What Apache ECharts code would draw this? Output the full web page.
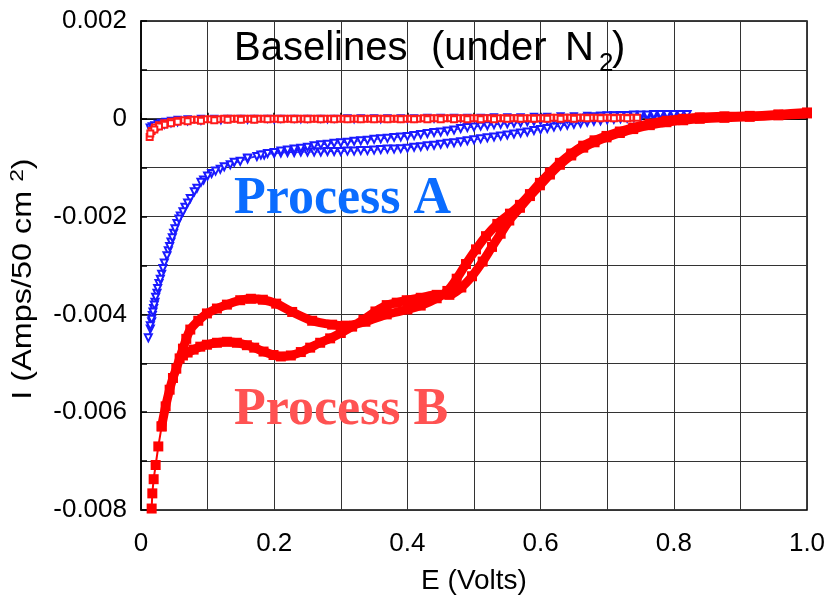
<!DOCTYPE html>
<html>
<head>
<meta charset="utf-8">
<script src="https://cdn.jsdelivr.net/npm/echarts@6/dist/echarts.min.js"></script>
<style>
  html, body { margin: 0; padding: 0; background: #fff; }
  #chart { width: 829px; height: 603px; }
</style>
</head>
<body>
<div id="chart"></div>
<script>
// Axis tick labels
const xTickLabels = ['0', '0.2', '0.4', '0.6', '0.8', '1.0'];
const yTickLabels = ['-0.008', '-0.006', '-0.004', '-0.002', '0', '0.002'];

// Process A sweep (E in volts, I in amps): rise, lower strand out, upper strand back, down the rise again
const procA_E = [0.011,0.014,0.016,0.017,0.019,0.021,0.024,0.027,0.031,0.035,0.041,0.045,0.049,0.054,0.059,0.066,0.074,0.084,0.094,0.106,0.119,0.134,0.149,0.16,0.174,0.185,
  0.20,0.21,0.22,0.23,0.24,0.25,0.26,0.27,0.28,0.29,0.30,0.31,0.32,0.33,0.34,0.35,0.36,0.37,0.38,0.39,0.40,0.41,0.42,0.43,0.44,0.45,0.46,0.47,0.48,0.49,0.50,
  0.51,0.52,0.53,0.54,0.55,0.56,0.57,0.58,0.59,0.60,0.61,0.62,0.63,0.64,0.65,0.66,0.67,0.68,0.69,0.70,0.71,0.72,0.73,0.74,0.75,0.76,0.77,0.78,0.79,0.80,
  0.82,0.81,0.80,0.79,0.78,0.77,0.76,0.75,0.74,0.73,0.72,0.71,0.70,0.69,0.68,0.67,0.66,0.65,0.64,0.63,0.62,0.61,0.60,0.59,0.58,0.57,0.56,0.55,0.54,0.53,0.52,0.51,
  0.50,0.49,0.48,0.47,0.46,0.45,0.44,0.43,0.42,0.41,0.40,0.39,0.38,0.37,0.36,0.35,0.34,0.33,0.32,0.31,0.30,0.29,0.28,0.27,0.26,0.25,0.24,0.23,0.22,0.21,0.20,0.19,0.18,
  0.16,0.14,0.125,0.112,0.10,0.09,0.08,0.07,0.063,0.057,0.051,0.047,0.043,0.039,0.033,0.029,0.025,0.022,0.020,0.018,0.016,0.014];
const procA_I = [-0.00448,-0.00430,-0.00415,-0.00402,-0.00388,-0.00375,-0.00357,-0.00337,-0.00318,-0.00295,-0.00270,-0.00252,-0.00234,-0.00214,-0.00199,-0.00181,-0.00163,-0.00142,-0.00125,-0.00112,-0.00103,-0.00094,-0.00087,-0.00082,-0.00077,-0.00074,
  -0.00071,-0.00070,-0.00069,-0.00069,-0.00068,-0.00068,-0.00068,-0.00068,-0.00067,-0.00067,-0.00067,-0.00066,-0.00066,-0.00065,-0.00065,-0.00064,-0.00063,-0.00062,-0.00062,-0.00061,-0.00060,-0.00058,-0.00057,-0.00055,-0.00054,-0.00052,-0.00050,-0.00049,-0.00047,-0.00045,-0.00043,
  -0.00041,-0.00039,-0.00037,-0.00035,-0.00033,-0.00031,-0.00029,-0.00027,-0.00024,-0.00022,-0.00020,-0.00017,-0.00015,-0.00013,-0.00011,-0.00009,-0.00007,-0.00005,-0.00004,-0.00002,-0.00001,0.00000,0.00001,0.00002,0.00003,0.00003,0.00004,0.00004,0.00005,0.00005,
  0.00009,0.00009,0.00009,0.00009,0.00009,0.00009,0.00008,0.00008,0.00008,0.00007,0.00007,0.00006,0.00006,0.00005,0.00004,0.00002,0.00001,0.00000,-0.00001,-0.00001,-0.00002,-0.00003,-0.00004,-0.00005,-0.00006,-0.00008,-0.00009,-0.00010,-0.00011,-0.00012,-0.00014,-0.00015,
  -0.00017,-0.00018,-0.00020,-0.00023,-0.00025,-0.00027,-0.00028,-0.00030,-0.00032,-0.00034,-0.00036,-0.00037,-0.00038,-0.00040,-0.00041,-0.00042,-0.00044,-0.00045,-0.00046,-0.00048,-0.00049,-0.00050,-0.00052,-0.00053,-0.00055,-0.00058,-0.00060,-0.00062,-0.00064,-0.00066,-0.00069,-0.00071,-0.00074,
  -0.00080,-0.00089,-0.00098,-0.00107,-0.00117,-0.00130,-0.00149,-0.00172,-0.00190,-0.00205,-0.00225,-0.00243,-0.00261,-0.00280,-0.00306,-0.00328,-0.00347,-0.00365,-0.00381,-0.00395,-0.00410,-0.00423];

// Process B: low-potential tail of the sweep
const procBTail_E = [0.016,0.017,0.019,0.022,0.026,0.031];
const procBTail_I = [-0.00797,-0.00766,-0.00737,-0.00708,-0.00670,-0.00629];

// Process B: remainder of the sweep (forward then return)
const procB_E = [0.031,0.037,0.043,0.048,0.053,0.058,0.063,0.068,0.074,0.086,0.099,0.114,0.129,0.149,0.165,0.183,0.203,0.227,0.257,0.287,0.307,0.337,0.369,0.400,0.420,0.444,0.460,0.474,0.488,0.503,0.518,0.535,0.554,0.569,0.584,0.599,0.614,0.629,0.646,0.664,0.681,0.699,0.719,0.739,0.764,0.789,0.814,0.839,0.876,0.914,0.957,1.0,
  1.0,0.957,0.914,0.876,0.839,0.814,0.789,0.764,0.739,0.719,0.699,0.681,0.664,0.646,0.629,0.614,0.599,0.584,0.569,0.553,0.540,0.527,0.513,0.497,0.481,0.463,0.444,0.420,0.399,0.384,0.369,0.352,0.334,0.317,0.300,0.284,0.269,0.254,0.240,0.225,0.210,0.199,0.184,0.170,0.159,0.144,0.129,0.114,0.099,0.089,0.079,0.070,0.063];
const procB_I = [-0.00629,-0.00588,-0.00554,-0.00530,-0.00511,-0.00490,-0.00470,-0.00450,-0.00431,-0.00413,-0.00398,-0.00388,-0.00380,-0.00371,-0.00368,-0.00370,-0.00378,-0.00395,-0.00413,-0.00421,-0.00423,-0.00415,-0.00400,-0.00390,-0.00382,-0.00367,-0.00352,-0.00327,-0.00297,-0.00267,-0.00240,-0.00215,-0.00194,-0.00176,-0.00154,-0.00131,-0.00110,-0.00090,-0.00071,-0.00055,-0.00044,-0.00035,-0.00026,-0.00018,-0.00010,-0.00004,0.00000,0.00003,0.00005,0.00006,0.00009,0.00013,
  0.00011,0.00007,0.00004,0.00002,0.00000,-0.00003,-0.00007,-0.00013,-0.00021,-0.00029,-0.00038,-0.00048,-0.00059,-0.00075,-0.00094,-0.00114,-0.00136,-0.00158,-0.00182,-0.00208,-0.00235,-0.00262,-0.00292,-0.00322,-0.00345,-0.00360,-0.00360,-0.00366,-0.00371,-0.00376,-0.00381,-0.00394,-0.00411,-0.00425,-0.00438,-0.00449,-0.00458,-0.00468,-0.00477,-0.00484,-0.00486,-0.00483,-0.00476,-0.00468,-0.00463,-0.00458,-0.00456,-0.00458,-0.00462,-0.00466,-0.00472,-0.00478,-0.00484];

// Baseline under N2, Process A
const baseA_E = [0.013,0.016,0.02,0.025,0.03,0.037,0.045,0.055,0.07,0.09,0.11,0.13,0.15,0.17,0.19,0.21,0.23,0.25,0.27,0.29,0.31,0.33,0.35,0.37,0.39,0.41,0.43,0.45,0.47,0.49,0.51,0.53,0.55,0.57,0.59,0.61,0.63,0.65,0.67,0.69,0.71,0.73,0.75,0.77,0.79,
  0.76,0.72,0.68,0.64,0.60,0.56,0.52,0.48,0.44,0.40,0.36,0.32,0.28,0.24,0.20,0.16,0.12,0.09,0.07,0.055,0.045,0.035,0.027,0.02,0.015];
const baseA_I = [-0.00018,-0.00015,-0.00013,-0.00010,-0.00008,-0.00006,-0.00004,-0.00002,-0.00001,0.00000,0.00000,0.00000,0.00000,0.00000,0.00000,0.00000,0.00000,0.00000,0.00000,0.00000,0.00001,0.00001,0.00001,0.00001,0.00001,0.00001,0.00002,0.00002,0.00002,0.00002,0.00002,0.00003,0.00003,0.00003,0.00004,0.00004,0.00005,0.00005,0.00006,0.00006,0.00007,0.00007,0.00008,0.00008,0.00008,
  0.00005,0.00004,0.00003,0.00002,0.00002,0.00001,0.00001,0.00000,0.00000,-0.00001,-0.00001,-0.00001,-0.00001,-0.00001,-0.00002,-0.00002,-0.00003,-0.00004,-0.00005,-0.00007,-0.00009,-0.00012,-0.00015,-0.00019,-0.00024];

// Baseline under N2, Process B
const baseB_E = [0.013,0.016,0.021,0.027,0.035,0.045,0.055,0.065,0.075,0.085,0.095,0.105,0.115,0.125,0.135,0.145,0.155,0.165,0.175,0.185,0.195,0.205,0.215,0.225,0.235,0.245,0.255,0.265,0.275,0.285,0.295,0.305,0.315,0.325,0.335,0.345,0.355,0.365,0.375,0.385,0.395,
  0.405,0.415,0.425,0.435,0.445,0.455,0.465,0.475,0.485,0.495,0.505,0.515,0.525,0.535,0.545,0.555,0.565,0.575,0.585,0.595,0.605,0.615,0.625,0.635,0.645,0.655,0.665,0.675,0.685,0.695,0.705,0.715,0.725,0.735,0.745,
  0.73,0.71,0.69,0.67,0.65,0.63,0.61,0.59,0.57,0.55,0.53,0.51,0.49,0.47,0.45,0.43,0.41,0.39,0.37,0.35,0.33,0.31,0.29,0.27,0.25,0.23,0.21,0.19,0.17,0.15,0.13,0.11,0.09,0.07,0.055,0.045,0.035,0.027,0.02,0.014];
const baseB_I = [-0.00037,-0.00025,-0.00018,-0.00013,-0.00009,-0.00006,-0.00004,-0.00003,-0.00002,-0.00002,-0.00001,-0.00001,-0.00001,0.00000,0.00000,0.00000,0.00000,0.00000,0.00000,0.00000,0.00000,0.00000,0.00000,0.00000,0.00000,0.00000,0.00000,0.00000,0.00000,0.00000,0.00000,0.00000,0.00000,0.00000,0.00000,0.00000,0.00000,0.00000,0.00000,0.00000,0.00000,
  0.00000,0.00000,0.00001,0.00001,0.00001,0.00001,0.00001,0.00001,0.00001,0.00001,0.00001,0.00001,0.00001,0.00001,0.00001,0.00001,0.00001,0.00001,0.00001,0.00001,0.00001,0.00002,0.00002,0.00002,0.00002,0.00002,0.00002,0.00002,0.00002,0.00002,0.00002,0.00002,0.00002,0.00002,0.00002,
  0.00001,0.00001,0.00001,0.00001,0.00000,0.00000,0.00000,0.00000,0.00000,0.00000,-0.00001,-0.00001,-0.00001,-0.00001,-0.00001,-0.00001,-0.00001,-0.00001,-0.00001,-0.00001,-0.00001,-0.00001,-0.00001,-0.00001,-0.00001,-0.00001,-0.00001,-0.00001,-0.00002,-0.00002,-0.00002,-0.00003,-0.00004,-0.00005,-0.00006,-0.00009,-0.00012,-0.00016,-0.00022,-0.00030];

const pairs = (xs, ys) => xs.map((x, i) => [x, ys[i]]);

const X_MIN = 0, X_MAX = 1, X_STEP = 0.1;
const Y_MIN = -0.008, Y_MAX = 0.002, Y_STEP = 0.001;
const FONT = '"Liberation Sans", Arial, sans-serif';
const SERIF = '"Liberation Serif", "Times New Roman", serif';
const BLUE = '#1a1aff';
const RED = '#ff0000';

const chart = echarts.init(document.getElementById('chart'), null, { renderer: 'canvas' });

chart.setOption({
  animation: false,
  backgroundColor: '#fff',
  grid: { left: 141, right: 22, top: 21, bottom: 93, show: true, borderColor: '#000', borderWidth: 1.5 },
  xAxis: {
    type: 'value', min: X_MIN, max: X_MAX, interval: X_STEP,
    name: 'E (Volts)', nameLocation: 'middle', nameGap: 57,
    nameTextStyle: { fontFamily: FONT, fontSize: 28, color: '#000' },
    axisLine: { show: true, lineStyle: { color: '#000', width: 1.5 } },
    axisTick: { show: true, inside: true, length: 6, lineStyle: { color: '#000', width: 1.5 } },
    axisLabel: {
      fontFamily: FONT, fontSize: 26, color: '#000', margin: 21,
      formatter: v => { const k = Math.round((v - X_MIN) / X_STEP); return k % 2 === 0 ? xTickLabels[k / 2] : ''; }
    },
    splitLine: { show: true, lineStyle: { color: '#333', width: 1 } }
  },
  yAxis: {
    type: 'value', min: Y_MIN, max: Y_MAX, interval: Y_STEP,
    axisLine: { show: true, lineStyle: { color: '#000', width: 1.5 } },
    axisTick: { show: true, inside: true, length: 6, lineStyle: { color: '#000', width: 1.5 } },
    axisLabel: {
      fontFamily: FONT, fontSize: 26, color: '#000', margin: 14,
      formatter: v => { const k = Math.round((v - Y_MIN) / Y_STEP); return k % 2 === 0 ? yTickLabels[k / 2] : ''; }
    },
    splitLine: { show: true, lineStyle: { color: '#333', width: 1 } }
  },
  series: [
    {
      name: 'Baseline A', type: 'line', data: pairs(baseA_E, baseA_I),
      symbol: 'emptyTriangle', symbolRotate: 180, symbolSize: 6, showAllSymbol: true,
      itemStyle: { color: BLUE, borderWidth: 1 }, lineStyle: { color: BLUE, width: 1 }, z: 2
    },
    {
      name: 'Process A', type: 'line', data: pairs(procA_E, procA_I),
      symbol: 'emptyTriangle', symbolRotate: 180, symbolSize: 7, showAllSymbol: true,
      itemStyle: { color: BLUE, borderWidth: 1 }, lineStyle: { color: BLUE, width: 1 }, z: 3
    },
    {
      name: 'Baseline B', type: 'line', data: pairs(baseB_E, baseB_I),
      symbol: 'emptyRect', symbolSize: 6, showAllSymbol: true,
      itemStyle: { color: '#ff1a1a', borderWidth: 1 }, lineStyle: { color: '#ff1a1a', width: 1 }, z: 4
    },
    {
      name: 'Process B tail', type: 'line', data: pairs(procBTail_E, procBTail_I),
      symbol: 'rect', symbolSize: 10, showAllSymbol: true,
      itemStyle: { color: RED }, lineStyle: { color: RED, width: 2 }, z: 5
    },
    {
      name: 'Process B', type: 'line', data: pairs(procB_E, procB_I), smooth: 0.3,
      symbol: 'rect', symbolSize: 10, showAllSymbol: true,
      itemStyle: { color: RED }, lineStyle: { color: RED, width: 9 }, z: 5
    }
  ],
  graphic: [
    // panel heading
    { type: 'text', x: 234, y: 49, z: 100, style: { text: 'Baselines', font: '40px ' + FONT, fill: '#000', verticalAlign: 'middle' } },
    { type: 'text', x: 431, y: 49, z: 100, style: { text: '(under', font: '40px ' + FONT, fill: '#000', verticalAlign: 'middle' } },
    { type: 'text', x: 565, y: 49, z: 100, style: { text: 'N', font: '40px ' + FONT, fill: '#000', verticalAlign: 'middle' } },
    { type: 'text', x: 599, y: 64, z: 100, style: { text: '2', font: '26px ' + FONT, fill: '#000', verticalAlign: 'middle' } },
    { type: 'text', x: 612, y: 49, z: 100, style: { text: ')', font: '40px ' + FONT, fill: '#000', verticalAlign: 'middle' } },
    // curve labels
    { type: 'text', x: 234, y: 200, z: 100, style: { text: 'Process A', font: 'bold 52px ' + SERIF, fill: '#0a6cff', verticalAlign: 'middle' } },
    { type: 'text', x: 234, y: 411, z: 100, style: { text: 'Process B', font: 'bold 52px ' + SERIF, fill: '#ff5252', verticalAlign: 'middle' } },
    // vertical axis title
    {
      type: 'text', x: 24, y: 279, rotation: Math.PI / 2, scaleX: 1.2, z: 100,
      style: {
        text: 'I (Amps/50 cm {sup|2})', font: '27px ' + FONT, fill: '#000', align: 'center', verticalAlign: 'middle',
        rich: { sup: { font: '19px ' + FONT, fill: '#000', padding: [0, 0, 13, 0] } }
      }
    }
  ]
});
</script>
</body>
</html>
